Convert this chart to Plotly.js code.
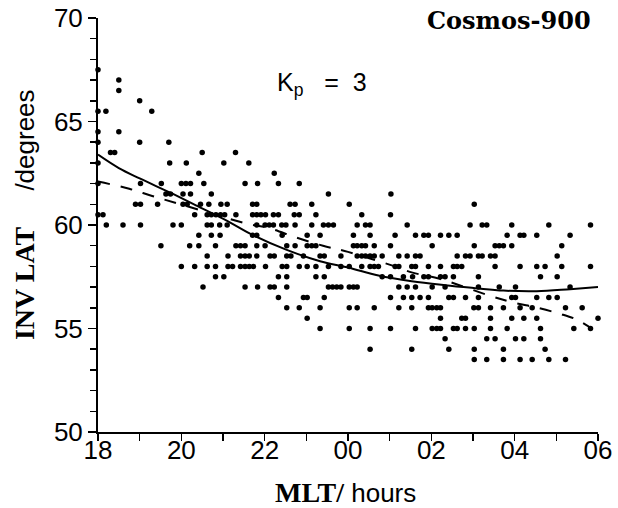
<!DOCTYPE html>
<html>
<head>
<meta charset="utf-8">
<script src="https://cdn.plot.ly/plotly-3.0.1.min.js"></script>
<style>html,body{margin:0;padding:0;background:#fff;}#chart{width:618px;height:508px;}</style>
</head>
<body>
<div id="chart"></div>
<script>
// Rows of observed points: invariant latitude (degrees) and the MLT hours (18..30 = 18..06) of the dots in that row
const rowLat = [67.5, 67, 66.5, 66, 65.5, 64.5, 64, 63.5, 63, 62.5, 62, 61.5, 61, 60.5, 60, 59.5, 59, 58.5, 58, 57.5, 57, 56.5, 56, 55.5, 55, 54.5, 54, 53.5];
const rowMLT = [
  [18.0],
  [18.5],
  [18.5],
  [19.0],
  [18.0, 18.19, 19.29],
  [18.0, 18.5],
  [18.0, 19.0, 19.7],
  [18.3, 18.4, 20.5, 21.3],
  [18.0, 19.72, 20.12, 21.02, 21.62],
  [20.42, 22.23],
  [18.0, 19.02, 19.52, 20.0, 20.11, 20.22, 20.54, 21.53, 21.83, 22.33, 22.83],
  [19.63, 19.74, 20.04, 20.22, 20.72, 23.53, 25.03],
  [18.9, 19.02, 19.43, 20.04, 20.14, 20.46, 20.66, 20.95, 21.1, 21.71, 21.81, 22.61, 22.73, 23.13, 24.03, 27.03],
  [18.0, 18.12, 20.32, 20.62, 20.72, 20.83, 20.94, 21.04, 21.31, 21.71, 21.81, 21.91, 22.02, 22.21, 22.33, 22.71, 22.83, 23.23, 24.33, 25.02],
  [18.2, 18.6, 19.02, 19.8, 20.0, 20.62, 20.72, 20.92, 21.1, 21.81, 22.01, 22.11, 22.21, 22.41, 22.51, 22.73, 23.13, 23.41, 23.53, 23.65, 24.22, 24.42, 24.53, 25.42, 26.93, 27.22, 27.33, 27.93, 28.82, 29.82],
  [20.42, 20.72, 20.93, 21.71, 21.81, 22.42, 23.02, 23.33, 24.13, 24.53, 25.13, 25.62, 25.82, 25.93, 26.22, 26.42, 26.62, 27.82, 28.13, 28.22, 28.53, 29.33],
  [19.51, 20.2, 20.42, 20.82, 21.31, 21.42, 21.53, 21.81, 22.01, 22.53, 22.73, 23.02, 23.13, 23.23, 24.13, 24.22, 24.33, 24.42, 24.63, 25.02, 26.02, 27.03, 27.53, 27.63, 27.73, 27.93, 29.13],
  [20.62, 21.12, 21.42, 21.53, 21.63, 21.81, 22.13, 22.23, 22.53, 22.63, 22.93, 23.33, 23.43, 23.83, 24.22, 24.33, 24.42, 24.53, 24.63, 24.82, 25.22, 25.42, 25.62, 25.73, 26.62, 26.82, 26.93, 27.13, 27.22, 27.42, 27.53, 29.02],
  [20.0, 20.32, 20.62, 20.82, 21.12, 21.23, 21.42, 21.53, 21.63, 21.73, 22.02, 22.42, 22.53, 22.83, 23.02, 23.23, 23.53, 23.83, 24.03, 24.33, 24.53, 24.63, 24.73, 25.13, 25.22, 25.53, 25.62, 25.93, 26.22, 26.53, 26.62, 26.73, 27.53, 28.13, 28.53, 28.73, 29.13, 29.82],
  [20.82, 21.02, 22.33, 22.53, 23.23, 23.43, 24.82, 25.02, 25.33, 25.55, 25.82, 25.93, 26.22, 26.33, 26.53, 27.13, 28.62, 29.02],
  [20.52, 21.53, 21.83, 22.13, 22.23, 22.53, 23.53, 23.63, 23.73, 23.83, 24.03, 24.13, 24.22, 25.22, 25.42, 25.62, 26.02, 26.33, 27.13, 27.63, 28.02, 29.33],
  [22.33, 22.93, 23.02, 23.43, 25.02, 25.33, 25.53, 25.73, 25.93, 26.42, 26.53, 26.82, 27.13, 27.93, 28.02, 28.53, 28.82, 29.02],
  [22.53, 22.83, 23.33, 24.03, 24.22, 24.63, 25.22, 25.53, 25.93, 26.02, 26.13, 26.22, 27.02, 27.13, 27.42, 27.73, 28.13, 28.42, 29.22, 29.62],
  [23.02, 26.22, 26.73, 26.82, 27.42, 27.93, 28.22, 28.53, 30.0],
  [23.33, 24.03, 24.53, 25.02, 25.62, 26.02, 26.13, 26.22, 26.53, 26.62, 26.82, 27.03, 27.42, 27.82, 28.62, 29.42, 29.82],
  [26.33, 27.33, 27.53, 28.02, 28.22, 28.62],
  [24.53, 25.53, 26.42, 27.03, 27.73, 28.73],
  [27.03, 27.33, 27.73, 28.13, 28.42, 28.82, 29.22]
];

// Fitted curves
const solidMLT = [18.0, 18.5, 19.0, 19.8, 20.35, 21.1, 21.73, 22.53, 23.33, 24.0, 24.73, 25.53, 26.33, 27.05, 27.73, 28.53, 29.33, 30.0];
const solidLat = [63.4, 62.75, 62.25, 61.5, 60.95, 60.2, 59.5, 58.8, 58.25, 57.95, 57.56, 57.28, 57.09, 56.95, 56.83, 56.8, 56.9, 57.0];
const dashMLT = [18.0, 18.75, 19.3, 19.9, 21.6, 22.1, 22.75, 23.4, 24.0, 25.05, 25.55, 26.2, 27.35, 27.95, 28.55, 29.1, 29.5, 29.85];
const dashLat = [62.1, 61.75, 61.4, 61.05, 60.05, 59.85, 59.4, 59.0, 58.7, 58.05, 57.7, 57.4, 56.62, 56.26, 56.0, 55.7, 55.42, 55.0];

// Axis tick labels
const xTickVals = [18, 20, 22, 24, 26, 28, 30];
const xTickText = ['18', '20', '22', '00', '02', '04', '06'];

const ptsX = [], ptsY = [];
rowLat.forEach((lat, i) => rowMLT[i].forEach(h => { ptsX.push(h); ptsY.push(lat); }));

const SANS = 'Liberation Sans, Arial, sans-serif';
const SERIF_SPAN = 'font-family:Liberation Serif;font-weight:bold;font-size:28px';

const traces = [
  {x: ptsX, y: ptsY, type: 'scatter', mode: 'markers', cliponaxis: false,
   marker: {color: '#000', size: 5.5}, hoverinfo: 'skip'},
  {x: solidMLT, y: solidLat, type: 'scatter', mode: 'lines', xaxis: 'x2',
   line: {color: '#000', width: 2, shape: 'spline', smoothing: 1}},
  {x: dashMLT, y: dashLat, type: 'scatter', mode: 'lines',
   line: {color: '#000', width: 2, dash: '12px,11px', shape: 'spline', smoothing: 1}}
];

const layout = {
  width: 618, height: 508,
  margin: {l: 98, r: 20, t: 18, b: 76},
  paper_bgcolor: '#fff', plot_bgcolor: '#fff',
  showlegend: false,
  font: {family: SANS, color: '#000'},
  // axis carrying the tick marks
  xaxis: {
    range: [18, 30], tickmode: 'array', tickvals: xTickVals, showticklabels: false,
    showgrid: false, zeroline: false, showline: true, linecolor: '#000', linewidth: 2,
    ticks: 'outside', ticklen: 7, tickwidth: 1.5, tickcolor: '#000',
    minor: {tickmode: 'linear', tick0: 18, dtick: 1, ticks: 'outside', ticklen: 7, tickwidth: 1.5, tickcolor: '#000'}
  },
  // overlaid axis carrying the tick labels (closer to the axis line)
  xaxis2: {
    overlaying: 'x', anchor: 'y', side: 'bottom', range: [18, 30],
    tickmode: 'array', tickvals: xTickVals, ticktext: xTickText,
    showgrid: false, zeroline: false, showline: false, ticks: '',
    tickfont: {family: SANS, size: 26, color: '#000'}
  },
  yaxis: {
    range: [50, 70], tickmode: 'linear', tick0: 50, dtick: 5,
    showgrid: false, zeroline: false, showline: true, linecolor: '#000', linewidth: 2,
    ticks: 'outside', ticklen: 8, tickwidth: 1.5, tickcolor: '#000',
    tickfont: {family: SANS, size: 26, color: '#000'},
    minor: {dtick: 1, ticks: 'outside', ticklen: 6, tickwidth: 1.5, tickcolor: '#000'}
  },
  annotations: [
    {xref: 'paper', yref: 'paper', x: 0.99, y: 0.993, xanchor: 'right', yanchor: 'middle',
     text: '<b>Cosmos-900</b>', showarrow: false,
     font: {family: 'DejaVu Serif, serif', size: 24, color: '#000'}},
    {xref: 'paper', yref: 'paper', x: 0.354, y: 0.841, xanchor: 'left', yanchor: 'middle',
     text: 'K<sub>p</sub>   =  3', showarrow: false,
     font: {family: SANS, size: 25, color: '#000'}},
    {xref: 'paper', yref: 'paper', x: 0.494, y: -0.147, xanchor: 'center', yanchor: 'middle',
     text: '<span style="' + SERIF_SPAN + '">MLT/</span> hours', showarrow: false,
     font: {family: SANS, size: 26, color: '#000'}},
    {xref: 'paper', yref: 'paper', x: -0.148, y: 0.524, xanchor: 'center', yanchor: 'middle', textangle: -90,
     text: '<span style="' + SERIF_SPAN + '">INV LAT</span>     /degrees', showarrow: false,
     font: {family: SANS, size: 26, color: '#000'}}
  ]
};

Plotly.newPlot('chart', traces, layout, {staticPlot: true, displayModeBar: false});
</script>
</body>
</html>
